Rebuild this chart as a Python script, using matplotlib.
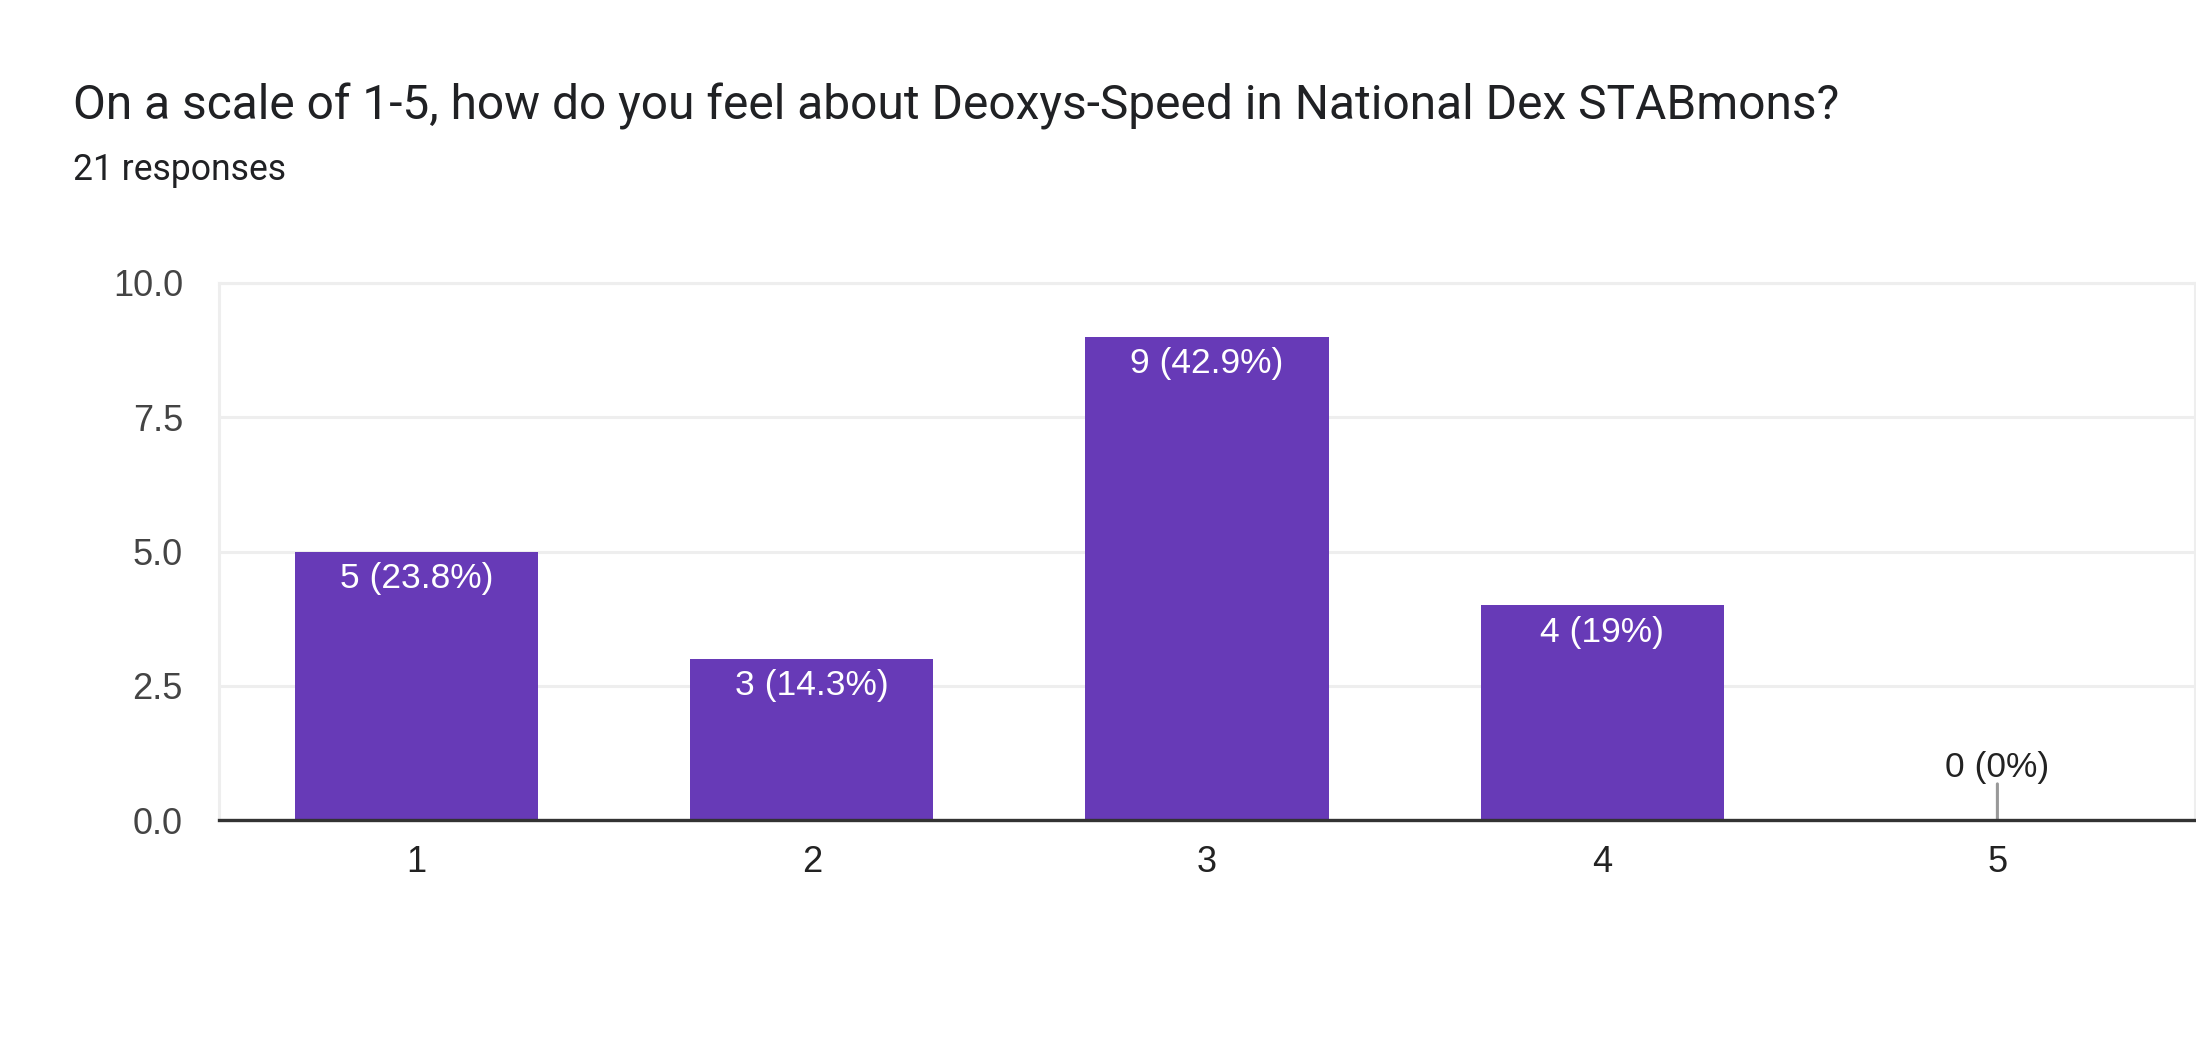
import matplotlib
matplotlib.use("Agg")
import matplotlib.pyplot as plt

categories = ["1", "2", "3", "4", "5"]
counts = [5, 3, 9, 4, 0]
labels = ["5 (23.8%)", "3 (14.3%)", "9 (42.9%)", "4 (19%)", "0 (0%)"]
yticks = [0.0, 2.5, 5.0, 7.5, 10.0]
title = "On a scale of 1-5, how do you feel about Deoxys-Speed in National Dex STABmons?"
subtitle = "21 responses"

plt.rcParams['font.family'] = ['Liberation Sans', 'DejaVu Sans']
title_font = ['Roboto', 'DejaVu Sans']

W, H = 2196, 1044
fig = plt.figure(figsize=(W / 100, H / 100), dpi=100)
ax = fig.add_axes([219 / W, (H - 820) / H, (2195 - 219) / W, (820 - 283) / H])

x = list(range(1, len(categories) + 1))
ax.bar(x, counts, width=0.615, color="#673AB7", zorder=3)

ax.set_xlim(0.5, len(categories) + 0.5)
ax.set_ylim(0, 10)
ax.set_yticks(yticks)
ax.set_yticklabels([f"{v:.1f}" for v in yticks])
ax.set_xticks(x)
ax.set_xticklabels(categories)

ax.tick_params(axis='y', length=0, pad=26, labelsize=26, labelcolor="#444444")
ax.tick_params(axis='x', length=0, pad=18, labelsize=26, labelcolor="#222222")

ax.grid(axis='y', color="#eeeeee", linewidth=2.2, zorder=0)
ax.set_axisbelow(True)
for s in ['left', 'right', 'top']:
    ax.spines[s].set_color("#eeeeee")
    ax.spines[s].set_linewidth(2.2)
ax.spines['bottom'].set_color("#333333")
ax.spines['bottom'].set_linewidth(2.4)
ax.spines['bottom'].set_zorder(5)

for xi, c, lab in zip(x, counts, labels):
    if c > 0:
        ax.annotate(lab, (xi, c), xytext=(0, -7.5), textcoords='offset points',
                    ha='center', va='top', fontsize=25.5, color="white", zorder=4)
    else:
        ax.annotate("", xy=(xi, 0), xytext=(0, 26), textcoords='offset points',
                    arrowprops=dict(arrowstyle='-', color="#999999", lw=2.2,
                                    shrinkA=0, shrinkB=0), zorder=4)
        ax.annotate(lab, (xi, 0), xytext=(0, 26), textcoords='offset points',
                    ha='center', va='bottom', fontsize=25.5, color="#222222", zorder=4)

fig.text(73 / W, 1 - 120 / H, title, fontsize=34.5, color="#202124", ha='left',
         va='baseline', family=title_font)
fig.text(73 / W, 1 - 180 / H, subtitle, fontsize=25.6, color="#202124", ha='left',
         va='baseline', family=title_font)

fig.savefig("out.png", dpi=100, facecolor="white")
